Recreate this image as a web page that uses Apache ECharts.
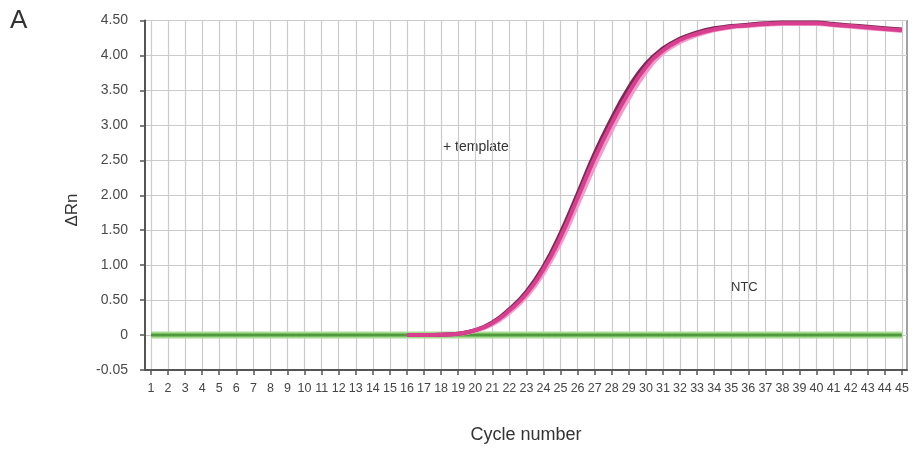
<!DOCTYPE html>
<html>
<head>
<meta charset="utf-8">
<script src="https://cdn.jsdelivr.net/npm/echarts@6/dist/echarts.min.js"></script>
<style>html,body{margin:0;padding:0;background:#fff;}#c{width:912px;height:449px;}</style>
</head>
<body>
<div id="c"></div>
<script>
var cycles = [1,2,3,4,5,6,7,8,9,10,11,12,13,14,15,16,17,18,19,20,21,22,23,24,25,26,27,28,29,30,31,32,33,34,35,36,37,38,39,40,41,42,43,44,45];
var yTickLabels = ['-0.05','0','0.50','1.00','1.50','2.00','2.50','3.00','3.50','4.00','4.50'];
// +template replicates (ΔRn)
var repA = [null,null,null,null,null,null,null,null,null,null,null,null,null,null,null,0.0,0.0,0.005,0.02,0.07,0.18,0.37,0.62,0.98,1.46,2.02,2.60,3.10,3.54,3.88,4.10,4.24,4.33,4.39,4.42,4.44,4.46,4.47,4.47,4.47,4.45,4.43,4.41,4.39,4.37];
var repB = [null,null,null,null,null,null,null,null,null,null,null,null,null,null,null,0.0,0.0,0.005,0.02,0.07,0.17,0.35,0.59,0.94,1.40,1.96,2.53,3.03,3.47,3.83,4.07,4.22,4.31,4.37,4.41,4.43,4.45,4.46,4.46,4.46,4.44,4.42,4.40,4.38,4.36];
var repC = [null,null,null,null,null,null,null,null,null,null,null,null,null,null,null,0.0,0.0,0.004,0.015,0.06,0.15,0.32,0.55,0.88,1.32,1.86,2.42,2.93,3.38,3.76,4.03,4.19,4.29,4.36,4.40,4.42,4.44,4.45,4.45,4.45,4.43,4.41,4.39,4.37,4.35];
// NTC
var ntc = [0,0,0,0,0,0,0,0,0,0,0,0,0,0,0,0,0,0,0,0,0,0,0,0,0,0,0,0,0,0,0,0,0,0,0,0,0,0,0,0,0,0,0,0,0];

function pairs(arr){ return cycles.map(function(c,i){ return [c, arr[i]]; }); }

var chart = echarts.init(document.getElementById('c'), null, {renderer:'canvas'});
var axisGray = '#555';
var gridGray = '#cbcbcb';
var font = 'Liberation Sans, Arial, sans-serif';
chart.setOption({
  animation: false,
  backgroundColor: '#fff',
  grid: { left: 145, right: 5, top: 20.5, bottom: 75, show: true, borderColor: '#666', borderWidth: 1.2, backgroundColor: 'transparent' },
  xAxis: {
    type: 'value', min: 0.65, max: 45.3,
    axisLine: { show: true, onZero: false, lineStyle: { color: axisGray, width: 2 } },
    axisTick: { show: true, length: 5, customValues: cycles, lineStyle: { color: axisGray, width: 1.5 } },
    axisLabel: { customValues: cycles, margin: 12, fontSize: 12.5, color: '#444', fontFamily: 'Liberation Sans Narrow, Arial Narrow, sans-serif', formatter: function(v){ return String(v); } },
    splitLine: { show: true, lineStyle: { color: gridGray, width: 1.2 } },
    name: 'Cycle number', nameLocation: 'middle', nameGap: 56,
    nameTextStyle: { fontSize: 18, color: '#333', fontFamily: font }
  },
  yAxis: {
    type: 'value', min: -0.5, max: 4.5, interval: 0.5,
    axisLine: { show: true, onZero: false, lineStyle: { color: axisGray, width: 2 } },
    axisTick: { show: true, length: 5, lineStyle: { color: axisGray, width: 1.5 } },
    axisLabel: { margin: 17, fontSize: 14, color: '#4a4a4a', fontFamily: font,
      formatter: function(v){ var i = Math.round((v + 0.5) / 0.5); return yTickLabels[i]; } },
    splitLine: { show: true, lineStyle: { color: gridGray, width: 1.2 } }
  },
  series: [
    { type: 'line', data: pairs(ntc), showSymbol: false, smooth: false, lineStyle: { color: '#a6dc90', width: 7 }, z: 2, silent: true },
    { type: 'line', data: pairs(ntc), showSymbol: false, smooth: false, lineStyle: { color: '#4f9a3c', width: 3 }, z: 3, silent: true },
    { type: 'line', data: pairs(repC), showSymbol: false, smooth: true, connectNulls: false, lineStyle: { color: '#f29acb', width: 4 }, z: 4 },
    { type: 'line', data: pairs(repA), showSymbol: false, smooth: true, lineStyle: { color: '#7a2a55', width: 4 }, z: 5 },
    { type: 'line', data: pairs(repB), showSymbol: false, smooth: true, lineStyle: { color: '#d8408f', width: 4 }, z: 6 }
  ],
  graphic: [
    { type: 'text', left: 10, top: 8, style: { text: 'A', fontSize: 26, fill: '#333', fontFamily: font } },
    { type: 'text', x: 72, y: 210, rotation: Math.PI / 2, style: { text: 'ΔRn', fontSize: 17, fill: '#333', fontFamily: font, align: 'center', verticalAlign: 'middle' } },
    { type: 'text', left: 443, top: 140, style: { text: '+ template', fontSize: 14, fill: '#333', fontFamily: font } },
    { type: 'text', left: 731, top: 281, style: { text: 'NTC', fontSize: 13, fill: '#333', fontFamily: font } }
  ]
});
</script>
</body>
</html>
